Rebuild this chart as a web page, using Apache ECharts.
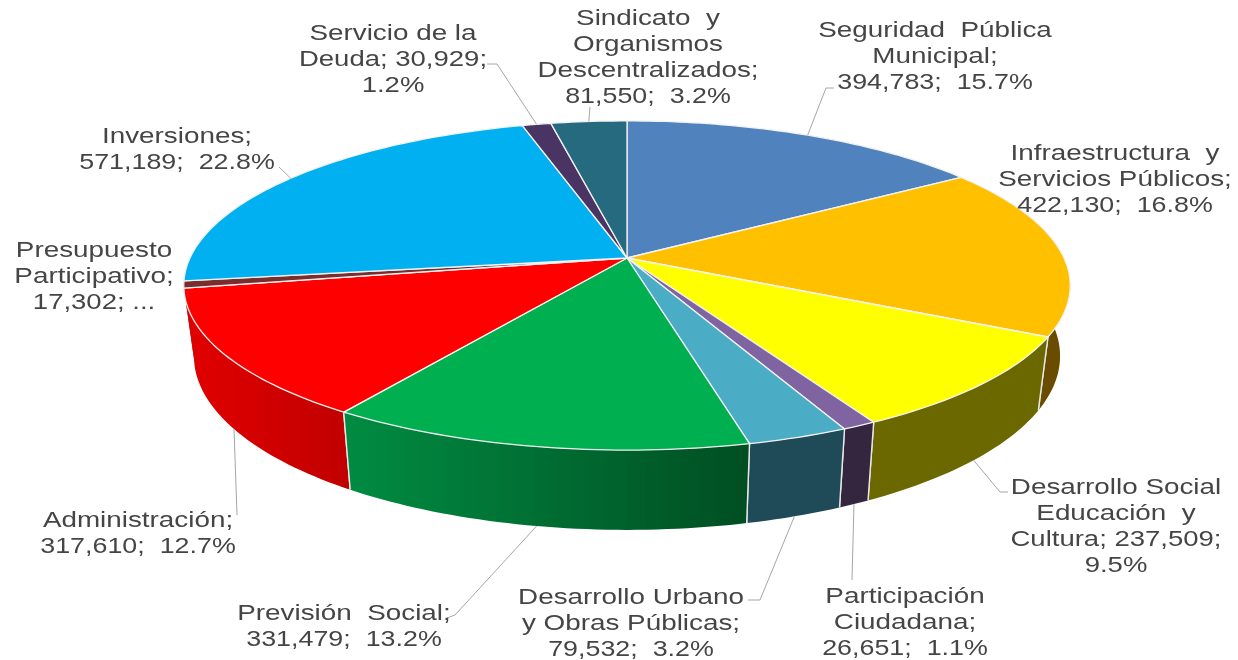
<!DOCTYPE html>
<html><head><meta charset="utf-8">
<style>html,body{margin:0;padding:0;background:#fff}#c{width:1238px;height:660px}</style>
<script src="https://cdn.jsdelivr.net/npm/echarts@6/dist/echarts.min.js"></script>
</head><body><div id="c"></div>
<script>
// ---- data ----
const categories = ['Seguridad Pública Municipal','Infraestructura y Servicios Públicos','Desarrollo Social Educación y Cultura','Participación Ciudadana','Desarrollo Urbano y Obras Públicas','Previsión Social','Administración','Presupuesto Participativo','Inversiones','Servicio de la Deuda','Sindicato y Organismos Descentralizados'];
const values = [394783,422130,237509,26651,79532,331479,317610,17302,571189,30929,81550];
const labelLines = [
  ['Seguridad  Pública','Municipal;','394,783;  15.7%'],
  ['Infraestructura  y','Servicios Públicos;','422,130;  16.8%'],
  ['Desarrollo Social','Educación  y','Cultura; 237,509;','9.5%'],
  ['Participación','Ciudadana;','26,651;  1.1%'],
  ['Desarrollo Urbano','y Obras Públicas;','79,532;  3.2%'],
  ['Previsión  Social;','331,479;  13.2%'],
  ['Administración;','317,610;  12.7%'],
  ['Presupuesto','Participativo;','17,302; ...'],
  ['Inversiones;','571,189;  22.8%'],
  ['Servicio de la','Deuda; 30,929;','1.2%'],
  ['Sindicato  y','Organismos','Descentralizados;','81,550;  3.2%']
];
// ---- style & layout ----
const topColors = ['#5083be','#ffc000','#ffff00','#8064a2','#4bacc6','#00b050','#ff0000','#7b2c2c','#00b0f0','#4a3463','#266a7f'];
const wallColors = [['#2f4d70','#2f4d70'],['#6a4c00','#6a4c00'],['#6c6800','#6c6800'],['#35263f','#35263f'],['#1f4a57','#1f4a57'],['#008c42','#004e22'],['#e20000','#c00000'],['#4a1a1a','#4a1a1a'],['#00688f','#00688f'],['#2b1f3b','#2b1f3b'],['#163f4c','#163f4c']];
const labelPos = [[935,31],[1115,154],[1116,488],[905,597],[631,598],[344,614],[138,521],[94,251],[177,137],[393,34],[648,19]];
const lineGap = 26;
// leader: [rim ('top'|'bottom'), elbow/end points]
const leaders = [
  ['top',[[826,88],[834,88]]], null,
  ['bottom',[[1000,492],[1008,492]]],
  ['bottom',[[852,580]]],
  ['bottom',[[760,600],[748,600]]],
  ['bottom',[[455,615],[447,618]]],
  ['bottom',[[237,515]]], null,
  ['top',[[279,167]]],
  ['top',[[497,64],[487,64]]],
  ['top',[[590,107]]]
];
const cx=627, cyTop=258, k=0.167;
const rxTop=437, ryTop=160, rxBot=427, ryBot=169, cyBot=327;
function proj(th, rx, ry, cy){
  const s=Math.sin(th), c=Math.cos(th), d=1+k*c;
  return [cx+rx*s/d, cy-ry*c/d];
}
const topPt = th=>proj(th,rxTop,ryTop,cyTop);
const botPt = th=>proj(th,rxBot,ryBot,cyBot);
const total = values.reduce((a,b)=>a+b,0);
const angles=[]; { let acc=0; values.forEach(v=>{ const a0=acc/total*2*Math.PI; acc+=v; angles.push([a0,acc/total*2*Math.PI]); }); }
function arc(f,a0,a1){ const n=Math.max(2,Math.ceil((a1-a0)/0.02)); const p=[]; for(let i=0;i<=n;i++) p.push(f(a0+(a1-a0)*i/n)); return p; }

const seriesData = values.map((v,i)=>({name:categories[i],value:v}));
// walls painted back to front
const wallOrder = values.map((_,i)=>i).sort((a,b)=>{
  const m=i=>(angles[i][0]+angles[i][1])/2;
  return Math.cos(m(b))-Math.cos(m(a));
});
const wallData = wallOrder.map(i=>({name:categories[i],value:values[i],idx:i}));

const option = {
  backgroundColor:'#ffffff',
  animation:false,
  series:[
    { type:'custom', coordinateSystem:'none', z:1, silent:true, data:wallData,
      renderItem(params){
        const i=wallData[params.dataIndex].idx, [a0,a1]=angles[i];
        const pts=arc(topPt,a0,a1).concat(arc(botPt,a0,a1).reverse());
        const cl=wallColors[i];
        const fill = new echarts.graphic.LinearGradient(0,0,1,0,[{offset:0,color:cl[0]},{offset:1,color:cl[1]}]);
        const children=[{type:'polygon',shape:{points:pts},style:{fill:fill,stroke:null}}];
        [a0,a1].forEach(a=>{
          if(Math.cos(a)<-0.3) children.push({type:'line',shape:{x1:topPt(a)[0],y1:topPt(a)[1],x2:botPt(a)[0],y2:botPt(a)[1]},style:{stroke:'#e8e8e8',lineWidth:1.4}});
        });
        return {type:'group',children};
      }
    },
    { type:'custom', coordinateSystem:'none', z:2, silent:true, data:seriesData,
      renderItem(params){
        const i=params.dataIndex,[a0,a1]=angles[i];
        const pts=[[cx,cyTop]].concat(arc(topPt,a0,a1));
        return {type:'polygon',shape:{points:pts},style:{fill:topColors[i],stroke:'#f2f2f2',lineWidth:1.3,lineJoin:'round'}};
      }
    },
    { type:'custom', coordinateSystem:'none', z:3, silent:true, data:seriesData,
      renderItem(params){
        const i=params.dataIndex,[a0,a1]=angles[i],children=[];
        if(leaders[i]){
          const mid=(a0+a1)/2, start=leaders[i][0]==='top'?topPt(mid):botPt(mid);
          children.push({type:'polyline',shape:{points:[start].concat(leaders[i][1])},style:{fill:null,stroke:'#a6a6a6',lineWidth:1}});
        }
        labelLines[i].forEach((t,j)=>{
          const sx = /\d;  /.test(t) ? 1.22 : (/\d/.test(t) ? 1.25 : 1.265);
          children.push({type:'text',x:labelPos[i][0],y:labelPos[i][1]+j*lineGap,scaleX:sx,
            style:{text:t,x:0,y:0,align:'center',verticalAlign:'middle',fill:'#454545',font:'22px "Liberation Sans"'}});
        });
        return {type:'group',children};
      }
    }
  ]
};
const chart = echarts.init(document.getElementById('c'),null,{renderer:'canvas'});
chart.setOption(option);
</script></body></html>
